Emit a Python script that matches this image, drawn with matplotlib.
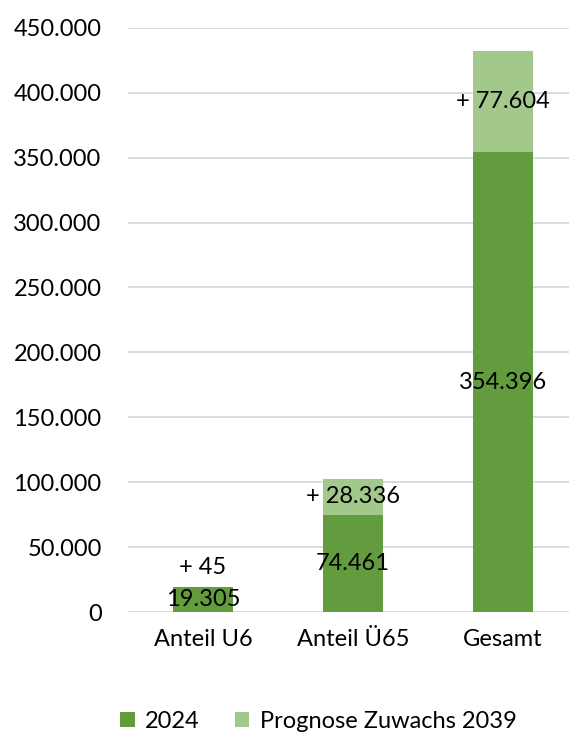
import matplotlib.pyplot as plt
from matplotlib.ticker import FuncFormatter

plt.rcParams['font.family'] = ['Lato', 'DejaVu Sans']

# Werte
kategorien = ['Anteil U6', 'Anteil Ü65', 'Gesamt']
werte_2024 = [19305, 74461, 354396]
zuwachs_2039 = [45, 28336, 77604]

dunkelgruen = '#629C3E'
hellgruen = '#A3C88C'

def punkt(v):
    return f'{v:,.0f}'.replace(',', '.')

fig = plt.figure(figsize=(5.69, 7.33), dpi=100)
ax = fig.add_axes([0.225, 0.165, 0.775, 0.797])

x = range(len(kategorien))
ax.bar(x, werte_2024, width=0.4, color=dunkelgruen, label='2024', zorder=3)
ax.bar(x, zuwachs_2039, width=0.4, bottom=werte_2024, color=hellgruen,
       label='Prognose Zuwachs 2039', zorder=3)

# Datenbeschriftungen
for i, (a, b) in enumerate(zip(werte_2024, zuwachs_2039)):
    ax.text(i, a / 2, punkt(a), ha='center', va='center', fontsize=17, zorder=4)
    y = a + b / 2
    if b < 5000:
        y = a + 15000
    ax.text(i, y, '+ ' + punkt(b), ha='center', va='center', fontsize=17, zorder=4)

ax.set_ylim(0, 450000)
ax.set_xlim(-0.5, 2.44)
ax.set_yticks(range(0, 450001, 50000))
ax.yaxis.set_major_formatter(FuncFormatter(lambda v, p: punkt(v)))
ax.set_xticks(list(x))
ax.set_xticklabels(kategorien)
ax.tick_params(axis='both', length=0, labelsize=17)
ax.tick_params(axis='y', pad=19)
ax.tick_params(axis='x', pad=12)
ax.grid(axis='y', color='#D9D9D9', linewidth=1.3, zorder=0)
for s in ax.spines.values():
    s.set_visible(False)

fig.legend(loc='lower center', bbox_to_anchor=(0.56, -0.027), ncol=2, frameon=False,
           fontsize=17, handlelength=0.6, handleheight=0.6, columnspacing=1.5,
           handletextpad=0.45)

fig.savefig('out.png', dpi=100)
